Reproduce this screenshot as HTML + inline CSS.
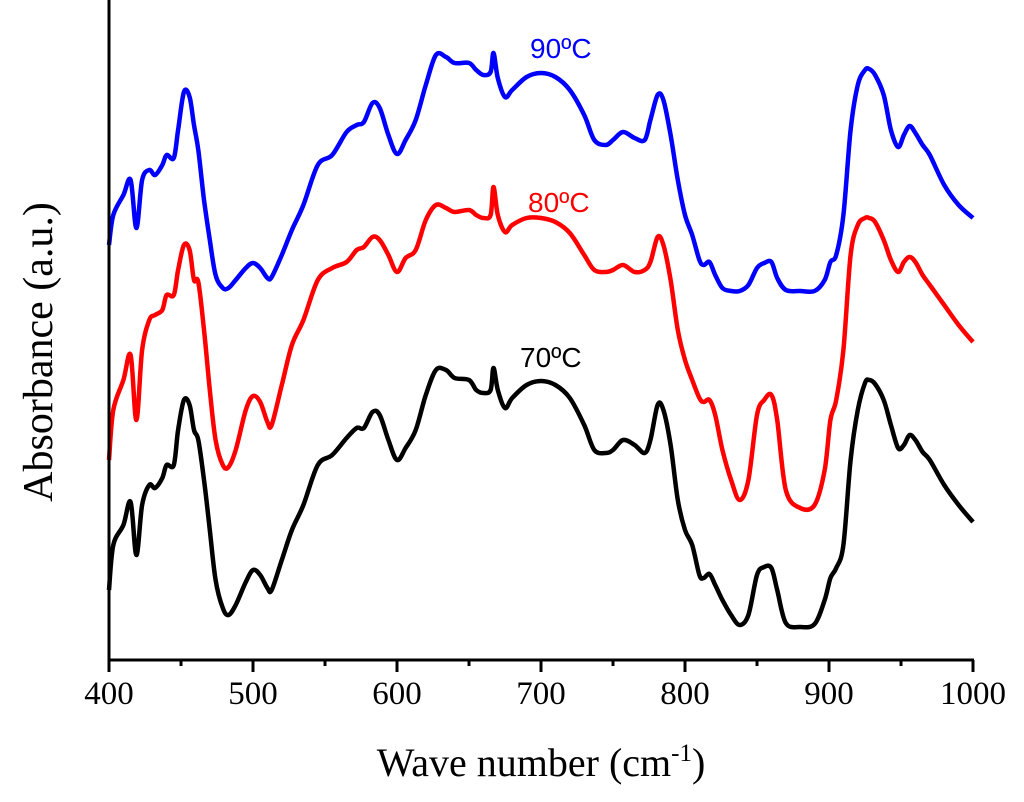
<!DOCTYPE html>
<html><head><meta charset="utf-8"><style>
body{margin:0;background:#fff}
svg{display:block}
text{font-family:"Liberation Serif",serif}
</style></head><body>
<svg id="c" width="1024" height="802" xmlns="http://www.w3.org/2000/svg"></svg>
<script>
const wavenumbers=[400,403,410,415,419,423,428,432,437,440,445,448,452,456,459,462,466,470,474,479,483,488,495,500,505,510,513,520,527,535,545,555,565,572,577,583,588,594,600,606,613,620,627,634,640,650,655,660,665,667,670,675,680,690,700,710,720,730,737,745,750,757,765,772,776,781,785,790,795,800,805,810,813,817,821,826,832,838,844,850,855,860,864,870,880,890,897,901,905,910,915,920,925,928,932,938,943,948,952,956,960,965,970,980,990,1000];
const abs70=[590,545,525,502,555,505,485,488,478,465,465,430,400,405,430,440,480,530,580,608,615,605,582,570,575,588,590,560,530,505,465,455,438,428,428,412,415,440,460,448,430,395,370,370,378,380,390,393,390,368,390,408,398,385,381,385,398,425,450,453,450,440,445,453,440,405,410,445,500,530,545,575,578,574,585,600,615,625,615,575,567,568,590,623,627,624,600,578,568,545,460,410,383,380,384,400,425,448,445,435,440,452,460,485,505,522].map(p=>(660-p)/6.6);
const abs80=[460,410,380,355,420,350,320,315,310,295,295,270,245,250,280,282,330,390,440,465,467,450,410,396,402,422,425,385,345,320,280,268,262,250,247,237,240,255,272,258,250,220,205,208,212,210,215,218,215,187,215,232,225,218,218,222,233,255,270,272,270,265,272,270,262,237,245,280,330,360,380,398,402,400,415,450,480,500,480,415,400,395,420,490,508,505,470,420,400,350,255,225,218,218,222,240,260,272,262,257,262,275,285,305,325,342].map(p=>(660-p)/6.6);
const abs90=[245,215,195,180,228,180,170,175,165,155,158,130,92,97,125,150,200,240,275,288,288,280,268,263,268,278,277,255,230,205,165,155,132,125,122,103,108,135,154,140,120,85,55,57,63,63,70,75,72,53,78,97,90,77,73,77,90,115,140,145,140,132,138,140,120,95,100,135,180,215,235,260,265,262,275,288,291,291,285,268,263,262,278,290,291,291,280,262,255,215,130,85,70,69,75,95,130,147,135,126,133,145,155,185,205,218].map(p=>(660-p)/6.6);
const xTicks=[400,500,600,700,800,900,1000];
const labels=["70ºC","80ºC","90ºC"];

const NS="http://www.w3.org/2000/svg",svg=document.getElementById('c');
const X=v=>109+(v-400)*(864/600), Y=a=>660-a*6.6;
function mk(t,at){const e=document.createElementNS(NS,t);for(const k in at)e.setAttribute(k,at[k]);svg.appendChild(e);return e;}
function smooth(pts){
 let d='M'+pts[0][0].toFixed(1)+','+pts[0][1].toFixed(1);
 for(let i=0;i<pts.length-1;i++){
  const p0=pts[i-1]||pts[i],p1=pts[i],p2=pts[i+1],p3=pts[i+2]||p2;
  const c1=[p1[0]+(p2[0]-p0[0])/6,p1[1]+(p2[1]-p0[1])/6];
  const c2=[p2[0]-(p3[0]-p1[0])/6,p2[1]-(p3[1]-p1[1])/6];
  d+='C'+c1[0].toFixed(1)+','+c1[1].toFixed(1)+' '+c2[0].toFixed(1)+','+c2[1].toFixed(1)+' '+p2[0].toFixed(1)+','+p2[1].toFixed(1);
 }
 return d;
}
const series=[[abs70,'#000','series-70c',labels[0],520,367,'#000'],[abs80,'#f00','series-80c',labels[1],528,212,'#f00'],[abs90,'#00f','series-90c',labels[2],530,58,'#00f']];
series.forEach(s=>{
 const pts=wavenumbers.map((w,i)=>[X(w),Y(s[0][i])]);
 const p=mk('path',{d:smooth(pts),fill:'none',stroke:s[1],'stroke-width':4.5,'stroke-linejoin':'round'});
 
 
 const t=mk('text',{x:s[4],y:s[5],fill:s[6],'font-size':28,style:'font-family:"Liberation Sans",sans-serif'});
 t.textContent=s[3];
 
 
});
const ax=mk('path',{d:'M109,0V660H974',fill:'none',stroke:'#000','stroke-width':3});


for(let v=400;v<=1000;v+=50){
 const major=v%100===0;
 const tk=mk('line',{x1:X(v),x2:X(v),y1:660,y2:major?672:666,stroke:'#000','stroke-width':3});
 
 
}
xTicks.forEach(v=>{
 const t=mk('text',{x:X(v),y:704,'text-anchor':'middle','font-size':33});
 t.textContent=v;
 
 
});
const xt=mk('text',{x:541,y:776,'text-anchor':'middle','font-size':40});
xt.innerHTML='Wave number (cm<tspan dy="-15" font-size="25">-1</tspan><tspan dy="15">)</tspan>';


const yt=mk('text',{x:0,y:0,'text-anchor':'middle','font-size':42,transform:'translate(52,352) rotate(-90)'});
yt.textContent='Absorbance (a.u.)';


</script>
</body></html>
